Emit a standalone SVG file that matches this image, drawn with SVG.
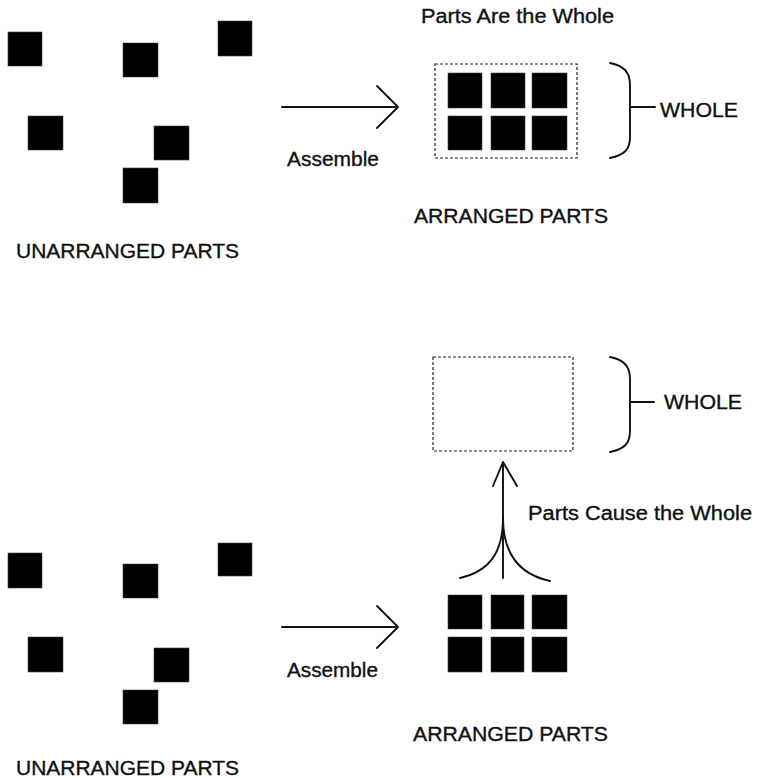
<svg xmlns="http://www.w3.org/2000/svg" width="757" height="778" viewBox="0 0 757 778">
<style>
.sq{fill:#000;stroke:#444;stroke-width:0.6}
.lbl{font-family:"Liberation Sans",Arial,sans-serif;font-size:19.5px;fill:#111;stroke:#111;stroke-width:0.35}
.ln{fill:none;stroke:#111;stroke-width:1.9;stroke-linecap:round;stroke-linejoin:round}
.dash{fill:none;stroke:#222;stroke-width:1.2;stroke-dasharray:3 2}
</style>
<rect width="757" height="778" fill="#fff"/>

<g id="top-unarranged">
<rect class="sq" x="8" y="32" width="34" height="34"/>
<rect class="sq" x="123" y="43" width="35" height="34"/>
<rect class="sq" x="218" y="21" width="34" height="35"/>
<rect class="sq" x="28" y="116" width="35" height="34"/>
<rect class="sq" x="154" y="126" width="35" height="34"/>
<rect class="sq" x="123" y="168" width="35" height="35"/>
<text class="lbl" x="16" y="258" textLength="223" lengthAdjust="spacingAndGlyphs">UNARRANGED PARTS</text>
</g>

<g id="top-title">
<text class="lbl" x="421" y="23" textLength="193" lengthAdjust="spacingAndGlyphs">Parts Are the Whole</text>
</g>

<g id="top-arranged">
<rect class="dash" x="435" y="64" width="142" height="94"/>
<rect class="sq" x="448" y="73" width="34" height="35"/>
<rect class="sq" x="491" y="73" width="34" height="35"/>
<rect class="sq" x="532" y="73" width="35" height="35"/>
<rect class="sq" x="448" y="116" width="34" height="34"/>
<rect class="sq" x="491" y="116" width="34" height="34"/>
<rect class="sq" x="532" y="116" width="35" height="34"/>
<text class="lbl" x="414" y="223" textLength="194" lengthAdjust="spacingAndGlyphs">ARRANGED PARTS</text>
</g>

<g id="top-whole">
<path class="ln" d="M610,63 C624,66 630,72 630,85 L630,137 C630,150 624,155 610,158 M630,107 L655,107"/>
<text class="lbl" x="660" y="117" textLength="78" lengthAdjust="spacingAndGlyphs">WHOLE</text>
</g>

<g id="bottom-unarranged">
<rect class="sq" x="8" y="553" width="34" height="35"/>
<rect class="sq" x="123" y="564" width="35" height="34"/>
<rect class="sq" x="218" y="543" width="34" height="33"/>
<rect class="sq" x="28" y="637" width="35" height="35"/>
<rect class="sq" x="154" y="648" width="35" height="34"/>
<rect class="sq" x="123" y="690" width="35" height="34"/>
<text class="lbl" x="16" y="775" textLength="223" lengthAdjust="spacingAndGlyphs">UNARRANGED PARTS</text>
</g>

<g id="bottom-arranged">
<rect class="sq" x="448" y="595" width="34" height="34"/>
<rect class="sq" x="491" y="595" width="33" height="34"/>
<rect class="sq" x="532" y="595" width="35" height="34"/>
<rect class="sq" x="448" y="637" width="34" height="35"/>
<rect class="sq" x="491" y="637" width="33" height="35"/>
<rect class="sq" x="532" y="637" width="35" height="35"/>
<text class="lbl" x="413" y="741" textLength="195" lengthAdjust="spacingAndGlyphs">ARRANGED PARTS</text>
</g>

<g id="bottom-whole">
<rect class="dash" x="433" y="357" width="140" height="94"/>
<path class="ln" d="M610,357 C624,360 630,366 630,379 L630,431 C630,444 624,449 610,452 M630,402 L654,402"/>
<text class="lbl" x="664" y="409" textLength="78" lengthAdjust="spacingAndGlyphs">WHOLE</text>
</g>

<g id="connectors">
<path class="ln" d="M282,107 L398,107 M377,86 L398,107 L377,128"/>
<text class="lbl" x="287" y="166" textLength="92" lengthAdjust="spacingAndGlyphs">Assemble</text>
<path class="ln" d="M282,627 L398,627 M377,606 L398,627 L377,648"/>
<text class="lbl" x="287" y="677" textLength="91" lengthAdjust="spacingAndGlyphs">Assemble</text>
<path class="ln" d="M503,578 L503,462 M493,486 L503,462 L517,486"/>
<path class="ln" d="M503,518 C503,552 490,571 460,578 M503,518 C503,553 518,574 550,581"/>
<text class="lbl" x="528" y="520" textLength="224" lengthAdjust="spacingAndGlyphs">Parts Cause the Whole</text>
</g>
</svg>
